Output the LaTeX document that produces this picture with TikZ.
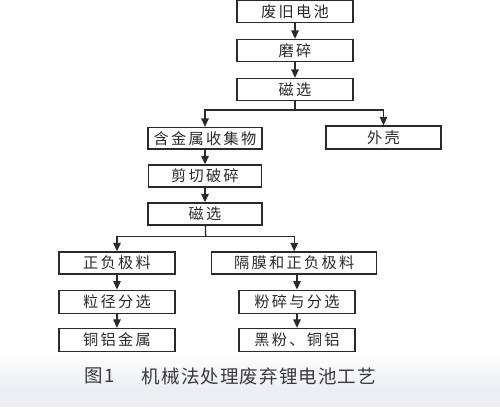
\documentclass[tikz,border=0pt]{standalone}
\usepackage{fontspec}
\setmainfont{Noto Sans CJK SC}
\newfontfamily\cjk[LetterSpace=15]{Noto Sans CJK SC}
\newfontfamily\capfont[LetterSpace=6]{Noto Sans CJK SC}
\usetikzlibrary{arrows.meta}
\definecolor{bgc}{HTML}{ECEEF4}
\definecolor{ink}{HTML}{2A2A2A}
\definecolor{capink}{HTML}{3A3A3A}
\begin{document}
\begin{tikzpicture}[x=1pt,y=-1pt,
  box/.style={draw=ink, line width=1.3pt, minimum height=22pt, inner sep=0pt,
    font=\cjk\fontsize{15.2}{17}\selectfont, text=ink},
  arr/.style={draw=ink, line width=1.3pt, -{Triangle[width=7.5pt,length=8.5pt]}},
  ln/.style={draw=ink, line width=1.3pt},
  captext/.style={font=\capfont\fontsize{18.5}{20}\selectfont, text=capink, inner sep=0pt}]
\useasboundingbox (0,0) rectangle (500,407);
\fill[white] (0,0) rectangle (500,407);
\shade[top color=white, bottom color=bgc] (0,355) rectangle (500,388);
\fill[bgc] (0,388) rectangle (500,407);

\node[box, minimum width=116pt] (b1) at (295,11.8) {废旧电池};
\node[box, minimum width=116pt] (b2) at (295,50.5) {磨碎};
\node[box, minimum width=116pt] (b3) at (295,89.5) {磁选};
\node[box, minimum width=114pt, minimum height=21.5pt] (b4) at (205,138.3) {含金属收集物};
\node[box, minimum width=115pt, minimum height=23pt] (b5) at (383.5,137.5) {外壳};
\node[box, minimum width=113pt] (b6) at (205,176) {剪切破碎};
\node[box, minimum width=114pt] (b7) at (205,214) {磁选};
\node[box, minimum width=116pt] (b8) at (117,263) {正负极料};
\node[box, minimum width=165pt] (b9) at (294.2,263) {隔膜和正负极料};
\node[box, minimum width=116pt, minimum height=23pt] (b10) at (117,301.7) {粒径分选};
\node[box, minimum width=116pt, minimum height=23pt] (b11) at (297,301.7) {粉碎与分选};
\node[box, minimum width=116pt, minimum height=23pt] (b12) at (117,340) {铜铝金属};
\node[box, minimum width=116pt, minimum height=23pt] (b13) at (297,340) {黑粉、铜铝};

\coordinate (j1) at (295,110);
\coordinate (j2) at (205.7,236.7);

\draw[arr] (b1) -- (b2);
\draw[arr] (b2) -- (b3);
\draw[ln] (b3) -- (j1);
\draw[arr] (j1) -| (b4.north);
\draw[arr] (j1) -| (b5.north);
\draw[arr] (b4) -- (b6);
\draw[arr] (b6) -- (b7);
\draw[ln] (b7) -- (j2);
\draw[arr] (j2) -| (b8.north);
\draw[arr] (j2) -| (b9.north);
\draw[arr] (b8) -- (b10);
\draw[arr] (b10) -- (b12);
\draw[arr] (b9.south -| b11.north) -- (b11);
\draw[arr] (b11) -- (b13);

\node[captext] (cap1) at (99.5,376) {图1};
\node[captext] (cap2) at (259,376) {机械法处理废弃锂电池工艺};
\end{tikzpicture}
\end{document}
